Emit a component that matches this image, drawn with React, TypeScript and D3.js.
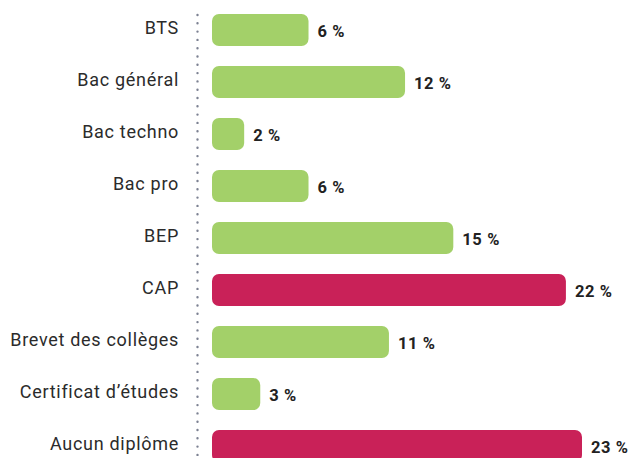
import { useEffect, useRef } from 'react'
import * as d3 from 'd3'

const categories = [
  'BTS',
  'Bac général',
  'Bac techno',
  'Bac pro',
  'BEP',
  'CAP',
  'Brevet des collèges',
  'Certificat d\u2019études',
  'Aucun diplôme',
]
const values = [6, 12, 2, 6, 15, 22, 11, 3, 23]
const highlighted = ['CAP', 'Aucun diplôme']

const WIDTH = 629
const HEIGHT = 458
const GREEN = '#a3d069'
const RED = '#c92158'

function App() {
  const ref = useRef<SVGSVGElement | null>(null)

  useEffect(() => {
    if (!ref.current) return
    const svg = d3.select(ref.current)
    svg.selectAll('*').remove()

    const data = categories.map((c, i) => ({ cat: c, value: values[i] }))

    const y = d3.scaleBand<string>()
      .domain(categories)
      .range([4, 4 + categories.length * 52])
      .paddingInner(20 / 52)
      .paddingOuter(10 / 52)

    const x = d3.scaleLinear()
      .domain([0, 23])
      .range([212, 582])

    // dotted axis line
    svg.append('line')
      .attr('x1', 197.5)
      .attr('x2', 197.5)
      .attr('y1', 15)
      .attr('y2', HEIGHT)
      .attr('stroke', '#7c8192')
      .attr('stroke-width', 2.4)
      .attr('stroke-linecap', 'round')
      .attr('stroke-dasharray', '0 8.3')

    // bars
    svg.selectAll('.bar')
      .data(data)
      .enter()
      .append('rect')
      .attr('class', 'bar')
      .attr('x', x(0))
      .attr('y', d => y(d.cat)!)
      .attr('width', d => x(d.value) - x(0))
      .attr('height', y.bandwidth())
      .attr('rx', 7)
      .attr('fill', d => highlighted.includes(d.cat) ? RED : GREEN)

    // category labels
    svg.selectAll('.cat')
      .data(data)
      .enter()
      .append('text')
      .attr('class', 'cat')
      .attr('x', 179)
      .attr('y', d => y(d.cat)! + y.bandwidth() / 2 - 2.5)
      .attr('dy', '0.35em')
      .attr('text-anchor', 'end')
      .attr('font-family', 'Roboto, sans-serif')
      .attr('font-size', '18px')
      .attr('letter-spacing', '0.7px')
      .attr('fill', '#2b2b2b')
      .text(d => d.cat)

    // value labels
    svg.selectAll('.val')
      .data(data)
      .enter()
      .append('text')
      .attr('class', 'val')
      .attr('x', d => x(d.value) + 9)
      .attr('y', d => y(d.cat)! + y.bandwidth() / 2 + 1)
      .attr('dy', '0.35em')
      .attr('font-family', 'Roboto, sans-serif')
      .attr('font-weight', 'bold')
      .attr('font-size', '16.5px')
      .attr('letter-spacing', '0.6px')
      .attr('fill', '#222')
      .text(d => `${d.value} %`)
  }, [])

  return (
    <svg
      ref={ref}
      width={WIDTH}
      height={HEIGHT}
      style={{ position: 'absolute', left: 0, top: 0, background: '#fff' }}
    />
  )
}

export default App
